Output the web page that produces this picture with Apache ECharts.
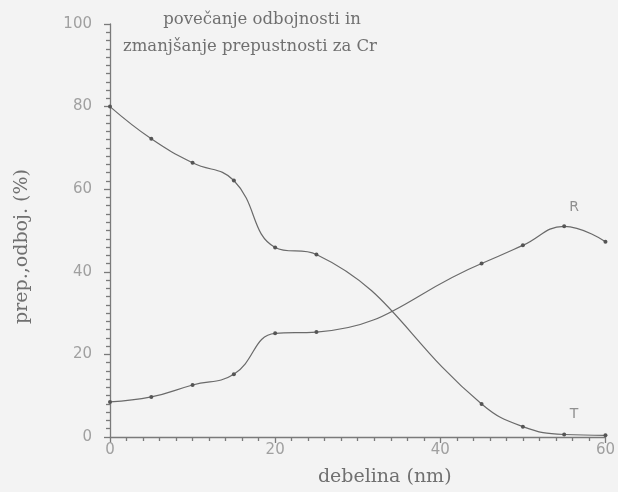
<!DOCTYPE html>
<html>
<head>
<meta charset="utf-8">
<script src="https://cdn.jsdelivr.net/npm/echarts@6/dist/echarts.min.js"></script>
<style>
html,body{margin:0;padding:0;background:#f3f3f3;}
#chart{width:618px;height:492px;}
</style>
</head>
<body>
<div id="chart"></div>
<script>
var thickness = [0, 5, 10, 15, 20, 25, 45, 50, 55, 60];
var transmission = [80, 72.2, 66.4, 62.1, 45.9, 44.2, 8.0, 2.5, 0.6, 0.4];
var reflection = [8.5, 9.7, 12.6, 15.2, 25.1, 25.4, 42.0, 46.4, 51.0, 47.3];
var yTicks = [0, 20, 40, 60, 80, 100];
var xTicks = [0, 20, 40, 60];
var titleLines = ['povečanje odbojnosti in', 'zmanjšanje prepustnosti za Cr'];
var seriesNames = ['T', 'R'];

function pairs(xs, ys){ return xs.map(function(x,i){ return [x, ys[i]]; }); }

var chart = echarts.init(document.getElementById('chart'));
var serif = '"DejaVu Serif", "Liberation Serif", serif';
var sans = '"DejaVu Sans", "Liberation Sans", sans-serif';
var lineCol = '#6a6a6a';
var axisCol = '#7a7a7a';
var labelCol = '#a0a0a0';
var nameCol = '#707070';

function mkSeries(name, ys){
  return {
    name: name,
    type: 'line',
    data: pairs(thickness, ys),
    smooth: 0.45,
    symbol: 'circle',
    symbolSize: 4,
    itemStyle: {color: '#555'},
    lineStyle: {color: lineCol, width: 1.2},
    animation: false
  };
}

chart.setOption({
  backgroundColor: '#f3f3f3',
  animation: false,
  grid: {left: 110, right: 7, top: 24, bottom: 55, containLabel: false},
  xAxis: {
    type: 'value', min: 0, max: 60, interval: 20,
    name: 'debelina (nm)', nameLocation: 'middle', nameGap: 31,
    nameTextStyle: {fontFamily: serif, fontSize: 19, color: nameCol, padding: [0, 0, 0, 54]},
    axisLine: {lineStyle: {color: axisCol, width: 1.3}},
    axisTick: {show: true, inside: false, length: 6, lineStyle: {color: axisCol, width: 1.3}},
    minorTick: {show: true, splitNumber: 10, length: 4, lineStyle: {color: axisCol, width: 1.3}},
    splitLine: {show: false},
    axisLabel: {color: labelCol, fontFamily: sans, fontSize: 15, margin: 6,
      formatter: function(v){ return xTicks.indexOf(v) >= 0 ? String(v) : ''; }}
  },
  yAxis: {
    type: 'value', min: 0, max: 100, interval: 20,
    name: 'prep.,odboj. (%)', nameLocation: 'middle', nameGap: 78, nameRotate: 90,
    nameTextStyle: {fontFamily: serif, fontSize: 19, color: nameCol, padding: [0, 32, 0, 0]},
    axisLine: {show: true, lineStyle: {color: axisCol, width: 1.3}},
    axisTick: {show: true, inside: false, length: 6, lineStyle: {color: axisCol, width: 1.3}},
    minorTick: {show: true, splitNumber: 10, length: 4, lineStyle: {color: axisCol, width: 1.3}},
    splitLine: {show: false},
    axisLabel: {color: labelCol, fontFamily: sans, fontSize: 15, margin: 18,
      formatter: function(v){ return yTicks.indexOf(v) >= 0 ? String(v) : ''; }}
  },
  series: [
    mkSeries(seriesNames[0], transmission),
    mkSeries(seriesNames[1], reflection),
    {
      type: 'scatter', silent: true, symbolSize: 0,
      data: [[56.2, 5.4], [56.2, 55.5]],
      label: {show: true, position: 'inside', color: '#777', fontFamily: sans, fontSize: 14,
        formatter: function(p){ return seriesNames[p.dataIndex]; }},
      animation: false
    }
  ],
  graphic: [
    {type: 'text', x: 262, y: 11, style: {text: titleLines[0], font: '16.5px ' + serif, fill: nameCol, textAlign: 'center'}},
    {type: 'text', x: 250, y: 38, style: {text: titleLines[1], font: '16.5px ' + serif, fill: nameCol, textAlign: 'center'}}
  ]
});
</script>
</body>
</html>
